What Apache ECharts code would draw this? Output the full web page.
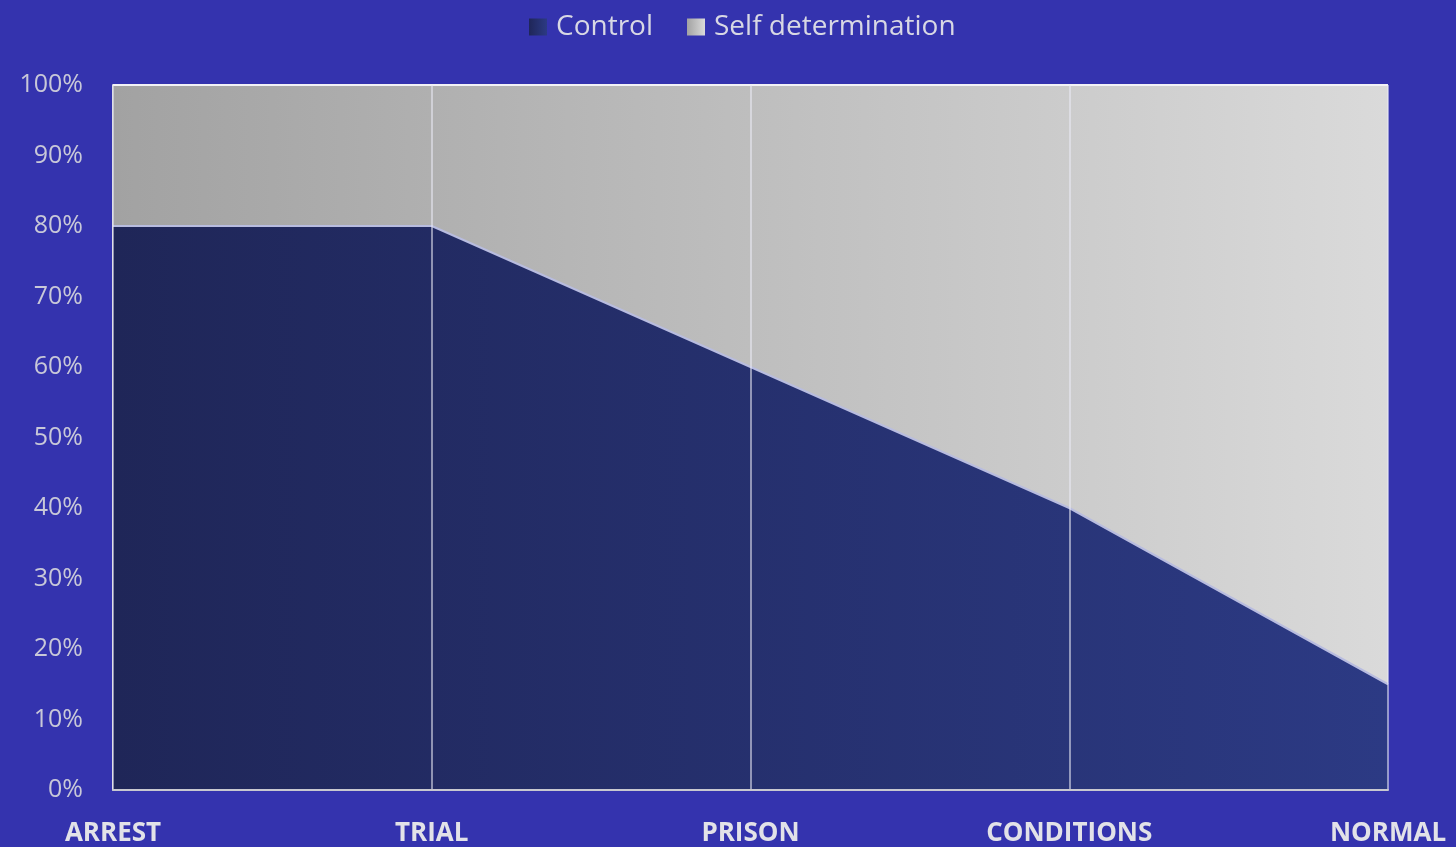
<!DOCTYPE html>
<html>
<head>
<meta charset="utf-8">
<script src="https://cdn.jsdelivr.net/npm/echarts@6/dist/echarts.min.js"></script>
<style>
  html, body { margin: 0; padding: 0; background: #3433ae; }
  #main { width: 1456px; height: 847px; }
</style>
</head>
<body>
<div id="main"></div>
<script>
// stages along the x axis
var stages = ['ARREST', 'TRIAL', 'PRISON', 'CONDITIONS', 'NORMAL'];
// percent share for each stage
var control = [80, 80, 60, 40, 15];
var selfDetermination = [20, 20, 40, 60, 85];

var chart = echarts.init(document.getElementById('main'));

function hGrad(a, b) {
    return new echarts.graphic.LinearGradient(0, 0, 1, 0, [
        { offset: 0, color: a },
        { offset: 1, color: b }
    ]);
}

chart.setOption({
    backgroundColor: '#3433ae',
    animation: false,
    textStyle: { fontFamily: 'Open Sans' },
    legend: {
        top: 8,
        left: 524,
        itemWidth: 18,
        itemHeight: 17,
        itemGap: 34,
        icon: 'rect',
        textStyle: { color: '#d8d8e4', fontSize: 28, fontFamily: 'Open Sans', padding: [0, 0, 0, 4] },
        data: ['Control', 'Self determination']
    },
    grid: {
        left: 113,
        right: 68,
        top: 85,
        bottom: 56
    },
    xAxis: {
        type: 'category',
        data: stages,
        boundaryGap: false,
        z: 5,
        axisLine: { lineStyle: { color: '#c8c8d0', width: 2 } },
        axisTick: { show: false },
        axisLabel: {
            color: '#e2e2e8',
            fontSize: 26,
            fontWeight: 'bold',
            margin: 31,
            fontFamily: 'Open Sans'
        },
        splitLine: { show: true, lineStyle: { color: 'rgba(235,235,245,0.55)', width: 2 } }
    },
    yAxis: {
        type: 'value',
        min: 0,
        max: 100,
        interval: 10,
        axisLine: { show: true, lineStyle: { color: '#d0d0d8', width: 2 } },
        axisTick: { show: false },
        splitLine: { show: false },
        axisLabel: {
            color: '#c8c8d8',
            fontSize: 25,
            margin: 30,
            fontFamily: 'Open Sans',
            formatter: '{value}%'
        }
    },
    series: [
        {
            name: 'Control',
            type: 'line',
            stack: 'total',
            data: control,
            symbol: 'none',
            lineStyle: { color: '#b8bce0', width: 2 },
            itemStyle: { color: hGrad('#1f2658', '#2c3a84') },
            areaStyle: { color: hGrad('#1f2658', '#2c3a84'), opacity: 1 }
        },
        {
            name: 'Self determination',
            type: 'line',
            stack: 'total',
            data: selfDetermination,
            symbol: 'none',
            lineStyle: { color: '#f2f2f6', width: 2 },
            itemStyle: { color: hGrad('#a2a2a2', '#dadada') },
            areaStyle: { color: hGrad('#a2a2a2', '#dadada'), opacity: 1 }
        }
    ]
});
</script>
</body>
</html>
